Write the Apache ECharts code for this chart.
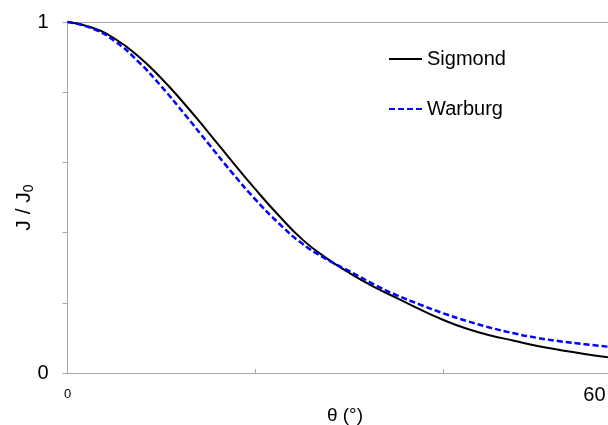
<!DOCTYPE html>
<html>
<head>
<meta charset="utf-8">
<script src="https://cdn.jsdelivr.net/npm/echarts@6/dist/echarts.min.js"></script>
<style>
    html, body { margin: 0; padding: 0; background: #fff; }
    #chart { width: 608px; height: 425px; }
</style>
</head>
<body>
<div id="chart"></div>
<script>
// angle (degrees) of each sample
const theta = [0, 2.5, 5, 7.5, 10, 12.5, 15, 17.5, 20, 22.5, 25, 27.5, 30,
    32.5, 35, 37.5, 40, 42.5, 45, 47.5, 50, 52.5, 55, 57.5];

// J / J0
const sigmond = [1.0, 0.985, 0.953, 0.903, 0.839, 0.765, 0.685, 0.603, 0.523, 0.448, 0.380, 0.328, 0.285,
    0.247, 0.214, 0.181, 0.151, 0.126, 0.107, 0.092, 0.077, 0.065, 0.054, 0.045];
const warburg = [1.0, 0.983, 0.946, 0.888, 0.816, 0.736, 0.653, 0.571, 0.494, 0.426, 0.368, 0.325, 0.290,
    0.254, 0.222, 0.195, 0.170, 0.148, 0.129, 0.113, 0.100, 0.090, 0.082, 0.075];

const seriesNames = ['Sigmond', 'Warburg'];
const xTickLabels = { 0: '{s|0}', 60: '{b|60}' };
const yTickLabels = { 0: '0', 1: '1' };

const axisGray = '#a6a6a6';
const font = 'Liberation Sans, Arial, sans-serif';

const chart = echarts.init(document.getElementById('chart'), null, { renderer: 'canvas' });

// pair each angle with its value
const pairs = values => theta.map((t, i) => [t, values[i]]);

const option = {
    animation: false,
    textStyle: { fontFamily: font, color: '#000' },
    grid: {
        outerBoundsMode: 'none',
        left: 67.5,
        top: 22,
        width: 564,   // the original picture is cropped just before 60 degrees
        height: 351
    },
    legend: {
        orient: 'vertical',
        left: 383,
        top: 44,
        itemWidth: 33,
        itemHeight: 14,
        itemGap: 30,
        selectedMode: false,
        itemStyle: { opacity: 0 },
        textStyle: { fontSize: 20, color: '#000', fontFamily: font }
    },
    xAxis: {
        type: 'value',
        min: 0,
        max: 60,
        interval: 20,
        name: 'θ (°)',
        nameLocation: 'middle',
        nameGap: 33,
        nameMoveOverlap: false,
        nameTextStyle: { fontSize: 19, color: '#000', fontFamily: font, padding: [0, 9, 0, 0] },
        axisLine: { lineStyle: { color: axisGray, width: 1 } },
        axisTick: { inside: true, length: 4, lineStyle: { color: axisGray } },
        splitLine: { show: false },
        axisLabel: {
            margin: 14,
            showMaxLabel: true,
            alignMaxLabel: 'right',
            formatter: value => xTickLabels[value] || '',
            rich: {
                s: { fontSize: 13, lineHeight: 15, color: '#000', fontFamily: font },
                b: { fontSize: 20, lineHeight: 16, color: '#000', fontFamily: font, padding: [0, 26, 0, 0] }
            }
        }
    },
    yAxis: {
        type: 'value',
        min: 0,
        max: 1,
        interval: 1,
        name: '{a|J / J}{sub|0}',
        nameLocation: 'middle',
        nameRotate: 90,
        nameGap: 31,
        nameMoveOverlap: false,
        nameTextStyle: {
            padding: [0, 20, 0, 0],
            rich: {
                a: { fontSize: 21, color: '#000', fontFamily: font },
                sub: { fontSize: 14, color: '#000', fontFamily: font, padding: [10, 0, 0, 0] }
            }
        },
        axisLine: { show: true, lineStyle: { color: axisGray, width: 1 } },
        axisTick: { show: true, length: 5, lineStyle: { color: axisGray } },
        minorTick: { show: true, splitNumber: 5, length: 5, lineStyle: { color: axisGray } },
        splitLine: { show: true, lineStyle: { color: axisGray, width: 1 } },
        axisLabel: {
            margin: 19,
            fontSize: 20,
            color: '#000',
            formatter: value => yTickLabels[value] || ''
        }
    },
    series: [
        {
            name: seriesNames[0],
            type: 'line',
            data: pairs(sigmond),
            smooth: true,
            symbol: 'none',
            lineStyle: { color: '#000', width: 2 },
            itemStyle: { color: '#000' },
            z: 3
        },
        {
            name: seriesNames[1],
            type: 'line',
            data: pairs(warburg),
            smooth: true,
            symbol: 'none',
            lineStyle: { color: '#0000ff', width: 2.5, type: [6, 3] },
            itemStyle: { color: '#0000ff' },
            z: 4
        }
    ]
};

chart.setOption(option);
</script>
</body>
</html>
